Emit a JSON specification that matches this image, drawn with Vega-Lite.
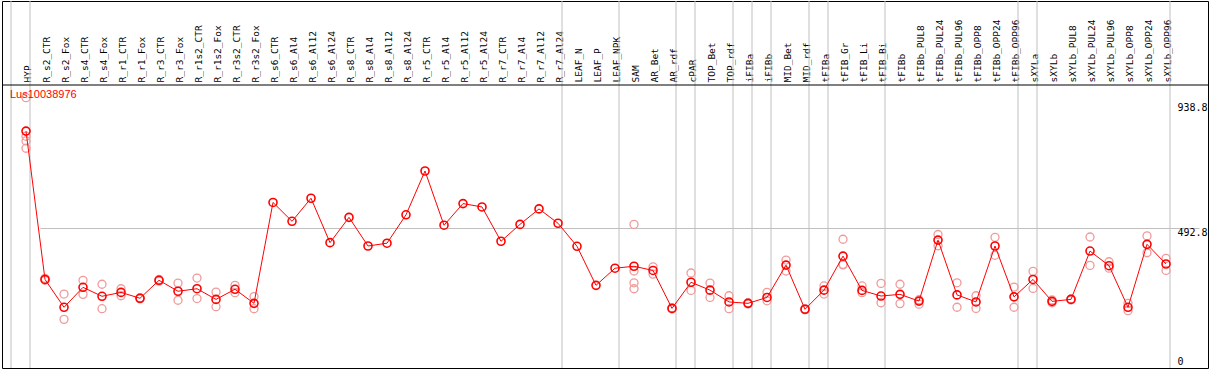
{
  "$schema": "https://vega.github.io/schema/vega-lite/v6.json",
  "width": 1206,
  "height": 367,
  "autosize": "none",
  "padding": {"left": 2, "top": 1, "right": 1, "bottom": 2},
  "background": "white",
  "config": {
    "view": {"stroke": "black", "strokeWidth": 1},
    "axis": {"title": null, "ticks": false, "domain": false}
  },
  "title": {"text": "Lus10038976", "anchor": "start", "frame": "group", "orient": "top", "offset": 0, "baseline": "top", "dy": 99, "dx": 8, "color": "#ff0000", "font": "Liberation Sans", "fontSize": 11, "fontWeight": "normal"},
  "datasets": {
    "means": [
      {"sample": "HYP", "value": 836},
      {"sample": "R_s2_CTR", "value": 308},
      {"sample": "R_s2_Fox", "value": 209},
      {"sample": "R_s4_CTR", "value": 280},
      {"sample": "R_s4_Fox", "value": 248},
      {"sample": "R_r1_CTR", "value": 262},
      {"sample": "R_r1_Fox", "value": 241},
      {"sample": "R_r3_CTR", "value": 305},
      {"sample": "R_r3_Fox", "value": 266},
      {"sample": "R_r1s2_CTR", "value": 275},
      {"sample": "R_r1s2_Fox", "value": 237},
      {"sample": "R_r3s2_CTR", "value": 273},
      {"sample": "R_r3s2_Fox", "value": 223},
      {"sample": "R_s6_CTR", "value": 582},
      {"sample": "R_s6_Al4", "value": 515},
      {"sample": "R_s6_Al12", "value": 597},
      {"sample": "R_s6_Al24", "value": 439},
      {"sample": "R_s8_CTR", "value": 529},
      {"sample": "R_s8_Al4", "value": 427},
      {"sample": "R_s8_Al12", "value": 437},
      {"sample": "R_s8_Al24", "value": 538},
      {"sample": "R_r5_CTR", "value": 694},
      {"sample": "R_r5_Al4", "value": 501},
      {"sample": "R_r5_Al12", "value": 578},
      {"sample": "R_r5_Al24", "value": 566},
      {"sample": "R_r7_CTR", "value": 444},
      {"sample": "R_r7_Al4", "value": 504},
      {"sample": "R_r7_Al12", "value": 559},
      {"sample": "R_r7_Al24", "value": 508},
      {"sample": "LEAF_N", "value": 426},
      {"sample": "LEAF_P", "value": 287},
      {"sample": "LEAF_NPK", "value": 348},
      {"sample": "SAM", "value": 355},
      {"sample": "AR_Bet", "value": 340},
      {"sample": "AR_rdf", "value": 205},
      {"sample": "cPAR", "value": 298},
      {"sample": "TOP_Bet", "value": 270},
      {"sample": "TOP_rdf", "value": 228},
      {"sample": "iFIBa", "value": 223},
      {"sample": "iFIBb", "value": 244},
      {"sample": "MID_Bet", "value": 359},
      {"sample": "MID_rdf", "value": 202},
      {"sample": "tFIBa", "value": 270},
      {"sample": "tFIB_Gr", "value": 391},
      {"sample": "tFIB_Li", "value": 269},
      {"sample": "tFIB_Bi", "value": 249},
      {"sample": "tFIBb", "value": 255},
      {"sample": "tFIBb_PUL8", "value": 231},
      {"sample": "tFIBb_PUL24", "value": 448},
      {"sample": "tFIBb_PUL96", "value": 253},
      {"sample": "tFIBb_OPP8", "value": 228},
      {"sample": "tFIBb_OPP24", "value": 427},
      {"sample": "tFIBb_OPP96", "value": 246},
      {"sample": "sXYLa", "value": 308},
      {"sample": "sXYLb", "value": 230},
      {"sample": "sXYLb_PUL8", "value": 237},
      {"sample": "sXYLb_PUL24", "value": 409},
      {"sample": "sXYLb_PUL96", "value": 357},
      {"sample": "sXYLb_OPP8", "value": 209},
      {"sample": "sXYLb_OPP24", "value": 433},
      {"sample": "sXYLb_OPP96", "value": 363}
    ],
    "reps": [
      {"sample": "HYP", "value": 955}, {"sample": "HYP", "value": 818}, {"sample": "HYP", "value": 801}, {"sample": "HYP", "value": 775},
      {"sample": "R_s2_CTR", "value": 312}, {"sample": "R_s2_CTR", "value": 305},
      {"sample": "R_s2_Fox", "value": 256}, {"sample": "R_s2_Fox", "value": 166},
      {"sample": "R_s4_CTR", "value": 305}, {"sample": "R_s4_CTR", "value": 255},
      {"sample": "R_s4_Fox", "value": 291}, {"sample": "R_s4_Fox", "value": 204},
      {"sample": "R_r1_CTR", "value": 275}, {"sample": "R_r1_CTR", "value": 250},
      {"sample": "R_r1_Fox", "value": 243}, {"sample": "R_r1_Fox", "value": 239},
      {"sample": "R_r3_CTR", "value": 308}, {"sample": "R_r3_CTR", "value": 302},
      {"sample": "R_r3_Fox", "value": 295}, {"sample": "R_r3_Fox", "value": 234},
      {"sample": "R_r1s2_CTR", "value": 313}, {"sample": "R_r1s2_CTR", "value": 240},
      {"sample": "R_r1s2_Fox", "value": 263}, {"sample": "R_r1s2_Fox", "value": 211},
      {"sample": "R_r3s2_CTR", "value": 287}, {"sample": "R_r3s2_CTR", "value": 261},
      {"sample": "R_r3s2_Fox", "value": 247}, {"sample": "R_r3s2_Fox", "value": 204},
      {"sample": "SAM", "value": 504}, {"sample": "SAM", "value": 338}, {"sample": "SAM", "value": 296}, {"sample": "SAM", "value": 275},
      {"sample": "AR_Bet", "value": 353}, {"sample": "AR_Bet", "value": 327},
      {"sample": "AR_rdf", "value": 207}, {"sample": "AR_rdf", "value": 203},
      {"sample": "cPAR", "value": 331}, {"sample": "cPAR", "value": 269},
      {"sample": "TOP_Bet", "value": 295}, {"sample": "TOP_Bet", "value": 244},
      {"sample": "TOP_rdf", "value": 250}, {"sample": "TOP_rdf", "value": 204},
      {"sample": "iFIBa", "value": 225}, {"sample": "iFIBa", "value": 221},
      {"sample": "iFIBb", "value": 262}, {"sample": "iFIBb", "value": 232},
      {"sample": "MID_Bet", "value": 377}, {"sample": "MID_Bet", "value": 338},
      {"sample": "MID_rdf", "value": 204}, {"sample": "MID_rdf", "value": 200},
      {"sample": "tFIBa", "value": 285}, {"sample": "tFIBa", "value": 256},
      {"sample": "tFIB_Gr", "value": 451}, {"sample": "tFIB_Gr", "value": 362}, {"sample": "tFIB_Gr", "value": 360},
      {"sample": "tFIB_Li", "value": 285}, {"sample": "tFIB_Li", "value": 261},
      {"sample": "tFIB_Bi", "value": 294}, {"sample": "tFIB_Bi", "value": 225},
      {"sample": "tFIBb", "value": 291}, {"sample": "tFIBb", "value": 222},
      {"sample": "tFIBb_PUL8", "value": 236}, {"sample": "tFIBb_PUL8", "value": 220},
      {"sample": "tFIBb_PUL24", "value": 468}, {"sample": "tFIBb_PUL24", "value": 428},
      {"sample": "tFIBb_PUL96", "value": 296}, {"sample": "tFIBb_PUL96", "value": 209},
      {"sample": "tFIBb_OPP8", "value": 250}, {"sample": "tFIBb_OPP8", "value": 205},
      {"sample": "tFIBb_OPP24", "value": 458}, {"sample": "tFIBb_OPP24", "value": 394},
      {"sample": "tFIBb_OPP96", "value": 281}, {"sample": "tFIBb_OPP96", "value": 209},
      {"sample": "sXYLa", "value": 337}, {"sample": "sXYLa", "value": 276},
      {"sample": "sXYLb", "value": 235}, {"sample": "sXYLb", "value": 225},
      {"sample": "sXYLb_PUL8", "value": 239}, {"sample": "sXYLb_PUL8", "value": 235},
      {"sample": "sXYLb_PUL24", "value": 459}, {"sample": "sXYLb_PUL24", "value": 358},
      {"sample": "sXYLb_PUL96", "value": 371}, {"sample": "sXYLb_PUL96", "value": 348},
      {"sample": "sXYLb_OPP8", "value": 223}, {"sample": "sXYLb_OPP8", "value": 197},
      {"sample": "sXYLb_OPP24", "value": 463}, {"sample": "sXYLb_OPP24", "value": 403},
      {"sample": "sXYLb_OPP96", "value": 383}, {"sample": "sXYLb_OPP96", "value": 340}
    ],
    "bounds": [
      {"sample": "HYP"}, {"sample": "R_s2_CTR"}, {"sample": "LEAF_N"}, {"sample": "SAM"}, {"sample": "cPAR"},
      {"sample": "TOP_Bet"}, {"sample": "iFIBa"}, {"sample": "iFIBb"}, {"sample": "MID_Bet"}, {"sample": "tFIBa"},
      {"sample": "tFIB_Gr"}, {"sample": "tFIBb"}, {"sample": "sXYLa"}, {"sample": "sXYLb"}
    ],
    "edge": [{"sample": "sXYLb_OPP96"}]
  },
  "layer": [
    {
      "data": {"name": "bounds"},
      "mark": {"type": "rule", "color": "#c0c0c0", "strokeWidth": 1},
      "encoding": {
        "x": {
          "field": "sample", "type": "nominal", "bandPosition": 0,
          "scale": {
            "type": "band", "paddingInner": 0, "paddingOuter": 0, "range": [9, 1168],
            "domain": ["HYP","R_s2_CTR","R_s2_Fox","R_s4_CTR","R_s4_Fox","R_r1_CTR","R_r1_Fox","R_r3_CTR","R_r3_Fox","R_r1s2_CTR","R_r1s2_Fox","R_r3s2_CTR","R_r3s2_Fox","R_s6_CTR","R_s6_Al4","R_s6_Al12","R_s6_Al24","R_s8_CTR","R_s8_Al4","R_s8_Al12","R_s8_Al24","R_r5_CTR","R_r5_Al4","R_r5_Al12","R_r5_Al24","R_r7_CTR","R_r7_Al4","R_r7_Al12","R_r7_Al24","LEAF_N","LEAF_P","LEAF_NPK","SAM","AR_Bet","AR_rdf","cPAR","TOP_Bet","TOP_rdf","iFIBa","iFIBb","MID_Bet","MID_rdf","tFIBa","tFIB_Gr","tFIB_Li","tFIB_Bi","tFIBb","tFIBb_PUL8","tFIBb_PUL24","tFIBb_PUL96","tFIBb_OPP8","tFIBb_OPP24","tFIBb_OPP96","sXYLa","sXYLb","sXYLb_PUL8","sXYLb_PUL24","sXYLb_PUL96","sXYLb_OPP8","sXYLb_OPP24","sXYLb_OPP96"]
          },
          "axis": {"orient": "top", "offset": -84, "title": null, "labelAngle": -90, "labelAlign": "left", "labelBaseline": "middle", "labelPadding": 3, "labelOffset": 7, "ticks": false, "domain": false, "grid": false, "labelFont": "DejaVu Sans Mono", "labelFontSize": 9.5, "labelColor": "black", "labelOverlap": false, "labelLimit": 0}
        }
      }
    },
    {
      "data": {"name": "edge"},
      "mark": {"type": "rule", "color": "#c0c0c0", "strokeWidth": 1},
      "encoding": {
        "x": {"field": "sample", "type": "nominal", "bandPosition": 1}
      }
    },
    {
      "data": {"name": "edge"},
      "mark": {"type": "rule", "color": "black", "strokeWidth": 1},
      "encoding": {
        "y": {
          "datum": 1000, "type": "quantitative",
          "scale": {"domain": [0, 1000], "range": [365, 84], "zero": true, "nice": false},
          "axis": {"orient": "right", "offset": -31, "values": [0, 492.8, 938.8], "format": ".1~f", "title": null, "ticks": false, "domain": false, "labelPadding": 0, "labelAlign": "left", "labelBaseline": {"condition": {"test": "datum.value === 0", "value": "bottom"}, "value": "top"}, "labelFlush": false, "labelFont": "DejaVu Sans Mono", "labelFontSize": 10, "labelColor": "black", "grid": true, "gridColor": "#c0c0c0", "gridOpacity": {"condition": {"test": "datum.value === 492.8", "value": 1}, "value": 0}}
        }
      }
    },
    {
      "data": {"name": "reps"},
      "mark": {"type": "point", "shape": "circle", "filled": false, "color": "#f09a9a", "size": 64, "strokeWidth": 1.3, "opacity": 1},
      "encoding": {
        "x": {"field": "sample", "type": "nominal", "bandPosition": 0.79},
        "y": {"field": "value", "type": "quantitative"}
      }
    },
    {
      "data": {"name": "means"},
      "mark": {"type": "line", "color": "#ff0000", "strokeWidth": 1},
      "encoding": {
        "x": {"field": "sample", "type": "nominal", "bandPosition": 0.79},
        "y": {"field": "value", "type": "quantitative"},
        "order": {"value": null}
      }
    },
    {
      "data": {"name": "means"},
      "mark": {"type": "point", "shape": "circle", "filled": false, "color": "#ff0000", "size": 64, "strokeWidth": 1.6, "opacity": 1},
      "encoding": {
        "x": {"field": "sample", "type": "nominal", "bandPosition": 0.79},
        "y": {"field": "value", "type": "quantitative"}
      }
    }
  ]
}
